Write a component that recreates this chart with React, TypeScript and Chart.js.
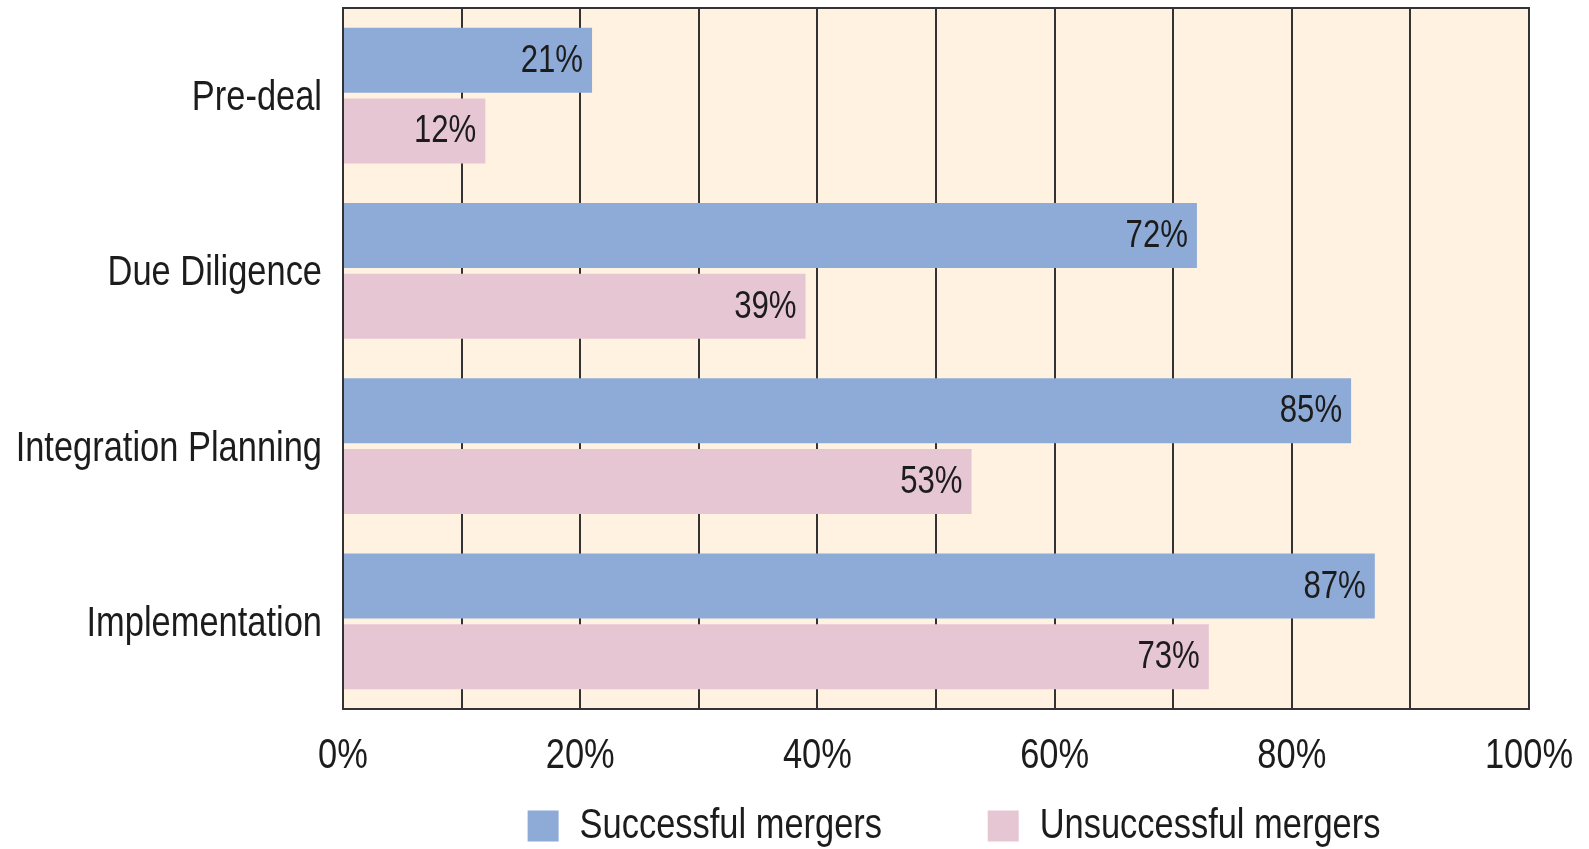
import React, { useEffect, useRef } from 'react';
import { Chart, registerables } from 'chart.js';

Chart.register(...registerables);

const categories = ['Pre-deal', 'Due Diligence', 'Integration Planning', 'Implementation'];
const successful = [21, 72, 85, 87];
const unsuccessful = [12, 39, 53, 73];
const seriesNames = ['Successful mergers', 'Unsuccessful mergers'];
const labeledTicks = [0, 20, 40, 60, 80, 100];

const FONT = "'Liberation Sans', Arial, sans-serif";
const NARROW = 0.82; // horizontal condensing, to mimic a narrow typeface
const BLUE = '#8EABD8';
const PINK = '#E7C6D3';
const BG = '#FFF2E0';
const LINE = '#333333';
const TEXT = '#1c1c1c';

function condenseText(ctx: any) {
  if (ctx.__condensed) return;
  ctx.__condensed = true;
  const origFill = ctx.fillText.bind(ctx);
  const origMeasure = ctx.measureText.bind(ctx);
  ctx.measureText = (t: string) => {
    const m = origMeasure(t);
    return {
      width: m.width * NARROW,
      actualBoundingBoxAscent: m.actualBoundingBoxAscent,
      actualBoundingBoxDescent: m.actualBoundingBoxDescent,
      actualBoundingBoxLeft: m.actualBoundingBoxLeft * NARROW,
      actualBoundingBoxRight: m.actualBoundingBoxRight * NARROW,
      fontBoundingBoxAscent: m.fontBoundingBoxAscent,
      fontBoundingBoxDescent: m.fontBoundingBoxDescent,
    };
  };
  ctx.fillText = (t: string, x: number, y: number, mw?: number) => {
    const w = origMeasure(t).width * NARROW;
    if (w <= 0) return;
    origFill(t, x, y, mw !== undefined ? Math.min(mw, w) : w);
  };
}

const framePlugin = {
  id: 'frame',
  beforeDraw(chart: any) {
    const { ctx, chartArea: a } = chart;
    ctx.save();
    ctx.fillStyle = BG;
    ctx.fillRect(a.left, a.top, a.right - a.left, a.bottom - a.top);
    ctx.restore();
  },
  afterLayout(chart: any) {
    const lg = chart.legend;
    const a = chart.chartArea;
    if (lg && a) {
      const c = (a.left + a.right) / 2 + 18;
      const half = (lg.right - lg.left) / 2;
      lg.left = c - half;
      lg.right = c + half;
    }
  },
  afterDatasetsDraw(chart: any) {
    const { ctx, chartArea: a } = chart;
    ctx.save();
    ctx.strokeStyle = LINE;
    ctx.lineWidth = 2;
    ctx.strokeRect(a.left, a.top, a.right - a.left, a.bottom - a.top);
    ctx.font = `38px ${FONT}`;
    ctx.fillStyle = TEXT;
    ctx.textAlign = 'right';
    ctx.textBaseline = 'middle';
    chart.data.datasets.forEach((ds: any, i: number) => {
      const meta = chart.getDatasetMeta(i);
      meta.data.forEach((el: any, j: number) => {
        ctx.fillText(`${ds.data[j]}%`, el.x - 9, el.y + 1);
      });
    });
    ctx.restore();
  },
};

export default function App() {
  const ref = useRef<HTMLCanvasElement | null>(null);

  useEffect(() => {
    if (!ref.current) return;
    const c2d = ref.current.getContext('2d');
    condenseText(c2d);
    const chart = new Chart(ref.current, {
      type: 'bar',
      data: {
        labels: categories,
        datasets: [
          {
            label: seriesNames[0],
            data: successful,
            backgroundColor: BLUE,
            borderWidth: 0,
            categoryPercentage: 0.807,
            barPercentage: 0.922,
          },
          {
            label: seriesNames[1],
            data: unsuccessful,
            backgroundColor: PINK,
            borderWidth: 0,
            categoryPercentage: 0.807,
            barPercentage: 0.922,
          },
        ],
      },
      options: {
        indexAxis: 'y',
        animation: false,
        responsive: false,
        devicePixelRatio: 1,
        layout: { padding: { top: 8, right: 60, left: 0, bottom: -8 } },
        scales: {
          x: {
            type: 'linear',
            min: 0,
            max: 100,
            grid: { display: true, color: LINE, lineWidth: 2, drawTicks: false },
            border: { display: false },
            ticks: {
              stepSize: 10,
              autoSkip: false,
              maxRotation: 0,
              padding: 22,
              color: TEXT,
              font: { family: FONT, size: 42 },
              callback: (v: any) => (labeledTicks.includes(Number(v)) ? `${v}%` : ''),
            },
            afterFit: (axis: any) => {
              axis.height = 86;
              axis.paddingLeft = 0;
              axis.paddingRight = 0;
            },
          },
          y: {
            type: 'category',
            grid: { display: false, drawTicks: false },
            border: { display: false },
            ticks: {
              autoSkip: false,
              padding: 21,
              labelOffset: 3,
              color: TEXT,
              font: { family: FONT, size: 42 },
            },
            afterFit: (axis: any) => {
              axis.width = 343;
              axis.paddingTop = 0;
              axis.paddingBottom = 0;
            },
          },
        },
        plugins: {
          legend: {
            position: 'bottom',
            labels: {
              boxWidth: 31,
              boxHeight: 31,
              padding: 10,
              color: TEXT,
              font: { family: FONT, size: 42 },
              generateLabels: (c: any) => {
                const items = (Chart.defaults.plugins.legend.labels as any).generateLabels(c);
                return items.map((it: any, i: number) => ({
                  ...it,
                  text: i === 0 ? it.text + '          ' : it.text,
                  lineWidth: 0,
                }));
              },
            },
          },
          tooltip: { enabled: false },
        },
      },
      plugins: [framePlugin],
    } as any);
    return () => chart.destroy();
  }, []);

  return (
    <div style={{ position: 'fixed', left: 0, top: 0, width: 1589, height: 849, background: '#fff' }}>
      <canvas ref={ref} width={1589} height={849} />
    </div>
  );
}
